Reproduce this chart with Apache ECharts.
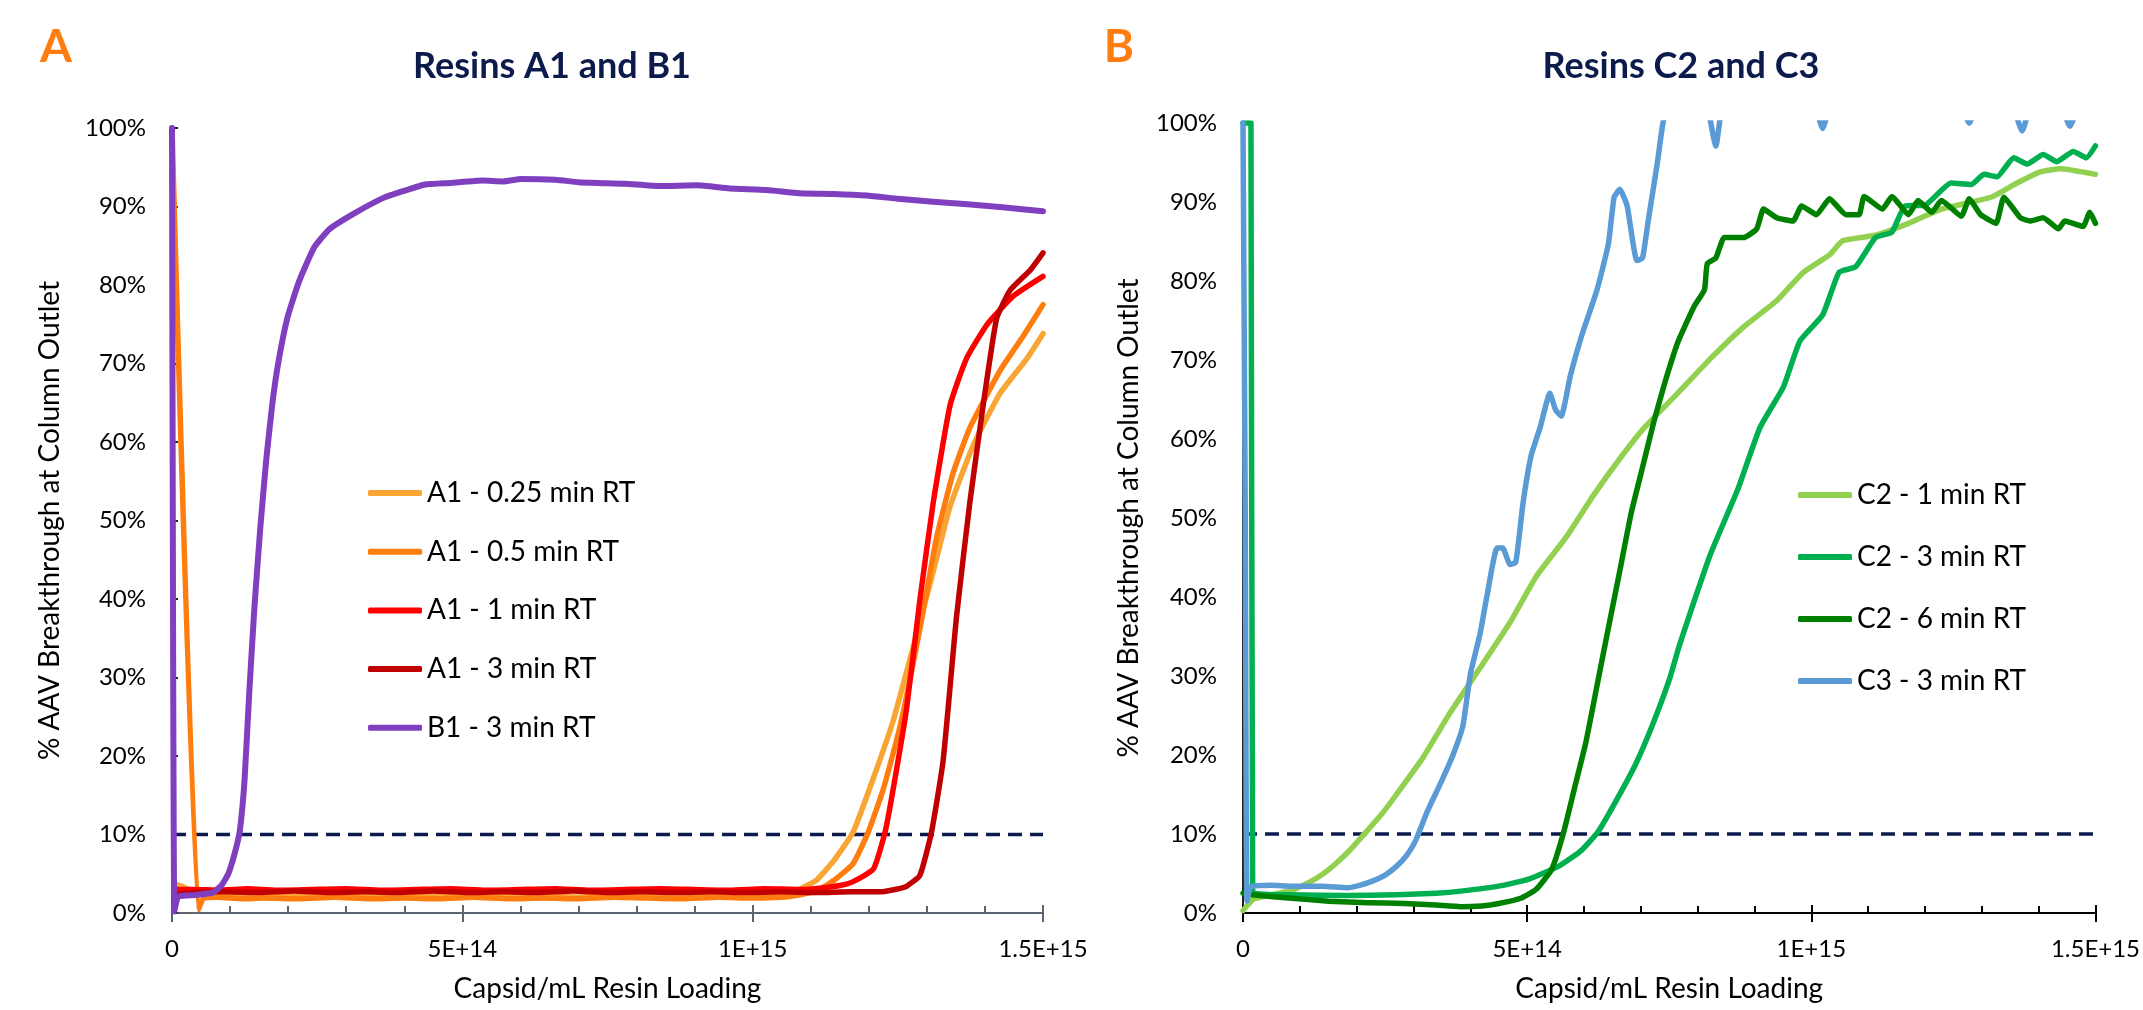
<!DOCTYPE html>
<html>
<head>
<meta charset="utf-8">
<title>AAV breakthrough curves</title>
<script src="https://cdn.jsdelivr.net/npm/echarts@6/dist/echarts.min.js"></script>
<style>
  html, body { margin: 0; padding: 0; background: #ffffff; }
  #chart { width: 2143px; height: 1010px; }
</style>
</head>
<body>
<div id="chart"></div>
<script>
// Loading is expressed in units of 1E+14 capsid/mL resin; breakthrough in %.
const xTickLabels = ['0', '5E+14', '1E+15', '1.5E+15'];
const thresholdLine = [[0, 10], [15, 10]];

// Panel A: resins A1 and B1
const a1_025 = [[0.08,3.6],[0.2,3.3],[0.4,2.6],[0.6,2.2],[1,2.1],[1.5,2.3],[2,2.1],[2.5,2.2],[3,2.0],[3.5,2.2],[4,2.1],[4.5,2.3],[5,2.0],[5.5,2.2],[6,2.1],[6.5,2.3],[7,2.0],[7.5,2.2],[8,2.1],[8.5,2.2],[9,2.1],[9.5,2.2],[10,2.2],[10.5,2.5],[10.8,3.0],[11.1,4.2],[11.39,6.6],[11.73,10.3],[12.08,17.2],[12.42,24.5],[12.77,34.0],[13.11,43.5],[13.40,51.8],[13.80,59.6],[14.26,66.2],[14.72,70.6],[15,73.8]];
const a1_05 = [[0,100],[0.45,0.4],[0.55,1.9],[0.8,2.0],[1.2,1.8],[1.6,1.9],[2.2,1.8],[2.8,2.0],[3.4,1.8],[4,1.9],[4.6,1.8],[5.2,2.0],[5.8,1.8],[6.4,1.9],[7,1.8],[7.6,2.0],[8.2,1.9],[8.8,1.8],[9.4,2.0],[10,1.9],[10.5,2.0],[10.8,2.3],[11.1,2.8],[11.39,4.1],[11.73,6.3],[11.99,10.3],[12.25,15.8],[12.54,23.8],[12.88,36.2],[13.17,47.9],[13.45,56.0],[13.74,61.8],[14.26,69.1],[14.66,73.5],[15,77.5]];
const a1_1 = [[0.08,3.0],[0.4,3.0],[0.8,2.9],[1.3,3.1],[1.8,2.9],[2.4,3.0],[3,3.1],[3.6,2.9],[4.2,3.0],[4.8,3.1],[5.4,2.9],[6,3.0],[6.6,3.1],[7.2,2.9],[7.8,3.0],[8.4,3.1],[9,3.0],[9.6,2.9],[10.2,3.1],[10.8,3.0],[11.2,3.2],[11.5,3.5],[11.73,4.0],[12.08,5.6],[12.28,10.3],[12.42,15.8],[12.65,26.0],[12.88,39.9],[13.11,52.3],[13.40,64.7],[13.68,70.6],[14.03,74.9],[14.49,78.6],[15,81.1]];
const a1_3 = [[0.08,2.4],[0.4,2.6],[0.9,2.7],[1.5,2.6],[2.1,2.8],[2.7,2.6],[3.3,2.7],[3.9,2.6],[4.5,2.8],[5.1,2.6],[5.7,2.7],[6.3,2.6],[6.9,2.8],[7.5,2.6],[8.1,2.7],[8.7,2.6],[9.3,2.7],[9.9,2.6],[10.5,2.7],[11.1,2.6],[11.7,2.7],[12.2,2.7],[12.45,3.0],[12.65,3.4],[12.88,4.8],[13.08,10.3],[13.28,19.4],[13.51,37.7],[13.74,52.3],[13.97,64.7],[14.20,75.7],[14.43,79.3],[14.78,81.9],[15,84.1]];
const b1_3 = [[0,100],[0.04,0.2],[0.11,2.1],[0.41,2.3],[0.7,2.6],[0.85,3.5],[0.97,5.0],[1.08,7.6],[1.17,10.6],[1.25,17.0],[1.33,28.0],[1.42,39.0],[1.52,49.0],[1.62,57.5],[1.73,65.0],[1.84,70.5],[1.99,75.9],[2.19,80.5],[2.45,84.8],[2.71,87.1],[3.11,89.0],[3.64,91.1],[4.0,92.0],[4.36,92.8],[4.8,93.0],[5.35,93.3],[5.7,93.2],[6.01,93.5],[6.6,93.4],[7.0,93.1],[7.33,93.0],[7.8,92.9],[8.4,92.6],[9.04,92.7],[9.6,92.3],[10.24,92.1],[10.8,91.7],[11.4,91.6],[11.96,91.4],[12.5,91.0],[13.11,90.6],[13.7,90.3],[14.3,89.9],[15,89.4]];

// Panel B: resins C2 and C3
const c2_1 = [[0,0.3],[0.08,1.0],[0.2,1.8],[0.51,2.3],[0.9,3.0],[1.17,3.9],[1.4,4.9],[1.64,6.3],[1.9,8.1],[2.17,10.3],[2.45,12.6],[2.70,15.0],[3.17,19.7],[3.63,25.2],[4.17,31.0],[4.70,36.8],[5.16,42.6],[5.70,47.7],[6.16,52.8],[6.63,57.5],[7.07,61.5],[7.65,65.8],[8.23,70.2],[8.81,74.2],[9.39,77.5],[9.86,81.1],[10.32,83.3],[10.55,85.1],[11.13,85.8],[11.71,87.3],[12.29,89.1],[13.16,90.6],[13.62,92.4],[14.03,93.8],[14.38,94.2],[15,93.5]];
const c2_3 = [[0,100],[0.14,100],[0.17,2.6],[0.84,2.3],[1.8,2.2],[2.70,2.3],[3.4,2.5],[3.87,2.8],[4.5,3.4],[5.03,4.3],[5.55,5.9],[5.95,7.9],[6.25,10.3],[6.55,14.0],[6.90,18.7],[7.20,23.7],[7.50,29.5],[7.68,33.9],[7.94,39.5],[8.23,45.5],[8.70,53.5],[9.10,61.5],[9.51,66.6],[9.80,72.4],[10.20,75.7],[10.49,81.1],[10.78,81.8],[11.13,85.5],[11.42,86.2],[11.65,89.5],[12.00,89.6],[12.46,92.4],[12.81,92.2],[13.04,93.5],[13.27,93.2],[13.56,95.6],[13.80,94.8],[14.08,96.0],[14.32,95.1],[14.61,96.4],[14.84,95.6],[15,97.1]];
const c2_6 = [[0,2.5],[0.17,2.3],[0.8,1.9],[1.51,1.5],[2.2,1.3],[2.84,1.2],[3.4,1.0],[3.83,0.8],[4.2,0.9],[4.50,1.2],[4.90,1.9],[5.16,3.0],[5.43,5.5],[5.63,9.9],[5.83,15.7],[6.03,21.5],[6.23,28.8],[6.43,36.1],[6.63,43.3],[6.83,50.6],[7.03,56.4],[7.23,62.2],[7.43,67.3],[7.66,72.4],[7.94,76.8],[8.12,78.9],[8.17,82.2],[8.32,82.9],[8.47,85.5],[8.81,85.5],[9.04,86.6],[9.16,89.1],[9.39,88.0],[9.68,87.6],[9.83,89.5],[10.09,88.4],[10.32,90.4],[10.61,88.4],[10.84,88.4],[10.93,90.7],[11.25,89.1],[11.42,90.7],[11.71,88.4],[11.88,90.2],[12.12,88.7],[12.29,90.2],[12.64,88.2],[12.78,90.4],[12.98,88.4],[13.25,87.3],[13.39,90.6],[13.68,88.0],[13.85,87.6],[14.08,88.0],[14.35,86.6],[14.46,87.6],[14.78,86.9],[14.90,88.7],[15,87.3]];
const c3_3 = [[0,100],[0.04,50],[0.07,1.5],[0.14,3.3],[0.5,3.5],[0.84,3.4],[1.4,3.4],[1.84,3.2],[2.05,3.5],[2.30,4.1],[2.50,4.8],[2.70,5.9],[2.88,7.3],[3.04,9.2],[3.24,12.8],[3.50,16.8],[3.70,20.1],[3.87,23.7],[4.00,30.2],[4.17,35.3],[4.30,40.4],[4.47,46.2],[4.57,46.2],[4.70,44.1],[4.80,44.4],[4.93,52.0],[5.07,57.9],[5.23,61.5],[5.40,65.8],[5.50,63.7],[5.60,62.9],[5.76,68.0],[5.96,73.1],[6.23,78.9],[6.43,84.7],[6.53,90.6],[6.63,91.6],[6.76,89.5],[6.93,82.6],[7.03,82.9],[7.13,87.6],[7.29,94.9],[7.39,100],[7.6,106],[7.9,108],[8.15,103],[8.32,97.1],[8.45,103],[8.8,108],[9.5,110],[10.0,104],[10.2,99.3],[10.4,104],[11,109],[12,108],[12.6,103],[12.78,100],[12.95,103],[13.4,105],[13.71,99.0],[13.95,104],[14.35,103],[14.55,99.6],[14.75,103],[15,104]];

const seriesA = [
  { name: 'A1 - 0.25 min RT', data: a1_025, color: '#F9A533' },
  { name: 'A1 - 0.5 min RT',  data: a1_05,  color: '#FF7C0F' },
  { name: 'A1 - 1 min RT',    data: a1_1,   color: '#FF0000' },
  { name: 'A1 - 3 min RT',    data: a1_3,   color: '#C00000' },
  { name: 'B1 - 3 min RT',    data: b1_3,   color: '#7F3FBF' }
];
const seriesB = [
  { name: 'C2 - 1 min RT', data: c2_1, color: '#92D050' },
  { name: 'C2 - 3 min RT', data: c2_3, color: '#00B050' },
  { name: 'C2 - 6 min RT', data: c2_6, color: '#008000' },
  { name: 'C3 - 3 min RT', data: c3_3, color: '#5B9BD5' }
];

const FONT = 'Lato, "Open Sans", sans-serif';
const NAVY = '#0D1B4C';
const ORANGE = '#FF7C0F';

function xAxes(gridIndex, lineColor) {
  const common = { type: 'value', gridIndex, min: 0, max: 15, interval: 5, position: 'bottom', splitLine: { show: false } };
  return [
    Object.assign({}, common, {
      axisLine: { show: true, lineStyle: { color: lineColor, width: 2 } },
      axisTick: { show: true, inside: true, length: 8, lineStyle: { color: lineColor, width: 2 } },
      minorTick: { show: true, splitNumber: 5, length: 7, lineStyle: { color: lineColor, width: 2 } },
      axisLabel: { margin: 24, fontSize: 24, fontFamily: FONT, color: '#000', formatter: v => xTickLabels[Math.round(v / 5)] },
      name: 'Capsid/mL Resin Loading', nameLocation: 'middle', nameGap: 62,
      nameTextStyle: { fontSize: 28, fontFamily: FONT, color: '#000' }
    }),
    // outward half of the major ticks
    Object.assign({}, common, {
      axisLine: { show: false },
      axisTick: { show: true, inside: false, length: 9, lineStyle: { color: lineColor, width: 2 } },
      axisLabel: { show: false }
    })
  ];
}

function yAxis(gridIndex, showTicks, nameGap) {
  return {
    type: 'value', gridIndex, min: 0, max: 100, interval: 10,
    splitLine: { show: false },
    axisLine: { show: true, lineStyle: { color: '#222', width: 2 } },
    axisTick: { show: showTicks, inside: true, length: 6, lineStyle: { color: '#222', width: 2 } },
    axisLabel: { margin: 26, fontSize: 24, fontFamily: FONT, color: '#000', formatter: '{value}%' },
    name: '% AAV Breakthrough at Column Outlet', nameLocation: 'middle', nameRotate: 90, nameGap,
    nameTextStyle: { fontSize: 28, fontFamily: FONT, color: '#000' }
  };
}

function curve(s, axisIndex, width) {
  return {
    type: 'line', name: s.name, data: s.data, xAxisIndex: axisIndex, yAxisIndex: axisIndex / 2,
    symbol: 'none', smooth: 0.15, clip: true, color: s.color,
    lineStyle: { color: s.color, width, cap: 'round', join: 'round' },
    itemStyle: { color: s.color },
    emphasis: { disabled: true }, animation: false
  };
}

function threshold(axisIndex) {
  return {
    type: 'line', name: 'threshold', data: thresholdLine, xAxisIndex: axisIndex, yAxisIndex: axisIndex / 2,
    symbol: 'none', silent: true, animation: false,
    lineStyle: { color: NAVY, width: 3.5, type: [14, 8] }
  };
}

function legend(names, left, top, gap) {
  return {
    data: names, orient: 'vertical', left, top, itemWidth: 54, itemHeight: 6, itemGap: gap,
    icon: 'roundRect', selectedMode: false,
    textStyle: { fontSize: 28, fontFamily: FONT, color: '#000', lineHeight: 30 }
  };
}

function heading(text, x, y, size, color) {
  return { type: 'text', x, y, style: { text, fill: color, font: `bold ${size}px ${FONT}`, textAlign: 'center', textVerticalAlign: 'middle' } };
}

const chart = echarts.init(document.getElementById('chart'), null, { renderer: 'canvas' });
chart.setOption({
  backgroundColor: '#ffffff',
  animation: false,
  grid: [
    { left: 172, top: 128, width: 871, height: 785 },
    { left: 1243, top: 123, width: 863, height: 790 }
  ],
  xAxis: [...xAxes(0, '#5B6570'), ...xAxes(1, '#000000')],
  yAxis: [yAxis(0, true, 108), yAxis(1, false, 100)],
  legend: [
    legend(seriesA.map(s => s.name), 363, 473, 28.7),
    legend(seriesB.map(s => s.name), 1793, 475, 32)
  ],
  graphic: [
    heading('A', 56, 47, 46, ORANGE),
    heading('Resins A1 and B1', 552, 66, 36, NAVY),
    heading('B', 1119, 47, 46, ORANGE),
    heading('Resins C2 and C3', 1681, 66, 36, NAVY)
  ],
  series: [
    threshold(0),
    ...seriesA.map(s => curve(s, 0, s.name.startsWith('B1') ? 6 : 5.5)),
    threshold(2),
    ...seriesB.map(s => curve(s, 2, 5.5))
  ]
});
</script>
</body>
</html>
